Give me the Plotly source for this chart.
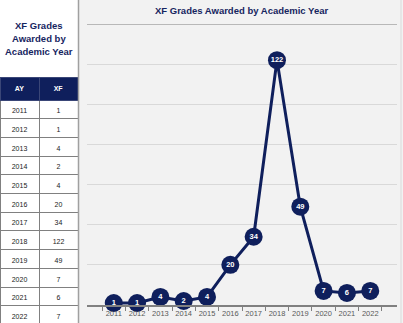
import plotly.graph_objects as go

# XF grades per academic year
years = ["2011", "2012", "2013", "2014", "2015", "2016",
         "2017", "2018", "2019", "2020", "2021", "2022"]
xf_counts = [1, 1, 4, 2, 4, 20, 34, 122, 49, 7, 6, 7]
table_header = ["AY", "XF"]

W, H = 403, 323
NAVY = "#0f1f5c"
FONT = "Liberation Sans"


def px_x(p):
    return p / W


def px_y(p):
    # pixel distance from the top -> paper fraction from the bottom
    return 1 - p / H


fig = go.Figure()

# line chart of the counts
fig.add_trace(go.Scatter(
    x=years, y=xf_counts,
    mode="lines+markers+text",
    line=dict(color=NAVY, width=3),
    marker=dict(size=18, color=NAVY),
    text=[str(v) for v in xf_counts],
    textposition="middle center",
    textfont=dict(color="white", size=7.5, family=FONT, weight="bold"),
    cliponaxis=False,
    hoverinfo="x+y",
    xaxis="x", yaxis="y",
))

# side table of the same values
fig.add_trace(go.Table(
    domain=dict(x=[0, px_x(78)], y=[0, px_y(77)]),
    columnwidth=[1, 1],
    header=dict(
        values=[f"<b>{h}</b>" for h in table_header],
        fill_color=NAVY,
        line=dict(color="#3a4677", width=1),
        font=dict(color="white", size=7, family=FONT),
        align="center",
        height=20,
    ),
    cells=dict(
        values=[years, [str(v) for v in xf_counts]],
        fill_color="white",
        line=dict(color="#808080", width=1),
        font=dict(color="#222222", size=7, family=FONT),
        align="center",
        height=18.7,
    ),
))

shapes = [
    # chart panel background
    dict(type="rect", xref="paper", yref="paper",
         x0=px_x(79), x1=1, y0=0, y1=1,
         fillcolor="#f2f2f2", line=dict(width=0), layer="below"),
    # divider between table and chart
    dict(type="line", xref="paper", yref="paper",
         x0=px_x(78.5), x1=px_x(78.5), y0=0, y1=1,
         line=dict(color="#a0a0a0", width=1.5)),
    # right frame edge
    dict(type="line", xref="paper", yref="paper",
         x0=px_x(401), x1=px_x(401), y0=0, y1=1,
         line=dict(color="#dadada", width=1)),
    # rule under the chart title
    dict(type="line", xref="paper", yref="paper",
         x0=px_x(87), x1=px_x(397), y0=px_y(24.5), y1=px_y(24.5),
         line=dict(color="#b8b8b8", width=1.2), layer="above"),
]

annotations = [
    dict(text="<b>XF Grades Awarded by Academic Year</b>",
         x=px_x(241), y=px_y(10), xref="paper", yref="paper",
         showarrow=False, xanchor="center", yanchor="middle",
         font=dict(size=9.5, color="#16255f", family=FONT)),
]
for i, line in enumerate(["XF Grades", "Awarded by", "Academic Year"]):
    annotations.append(dict(
        text=f"<b>{line}</b>", x=px_x(39), y=px_y(25 + 13 * i),
        xref="paper", yref="paper", showarrow=False,
        xanchor="center", yanchor="middle",
        font=dict(size=9.5, color="#16255f", family=FONT)))

# value axis: 0 at 305 px, 140 at 24 px
fig.update_layout(
    width=W, height=H,
    margin=dict(l=0, r=0, t=0, b=0),
    paper_bgcolor="white",
    plot_bgcolor="rgba(0,0,0,0)",
    showlegend=False,
    shapes=shapes,
    annotations=annotations,
    xaxis=dict(
        domain=[px_x(87), px_x(397)],
        type="category",
        tickson="boundaries",
        tickangle=0,
        ticks="outside", ticklen=4, tickwidth=1, tickcolor="#808080",
        showline=True, linecolor="#808080", linewidth=1.5,
        showgrid=False, zeroline=False,
        tickfont=dict(size=7.5, color="#595959", family=FONT),
        fixedrange=True,
    ),
    yaxis=dict(
        domain=[1 - 305 / H, 1 - 24 / H],
        range=[0, 140], dtick=20,
        showgrid=True, gridcolor="#d9d9d9", gridwidth=1,
        showticklabels=False, zeroline=False, showline=False,
        fixedrange=True,
    ),
)

fig.write_html("out.html", config={"displayModeBar": False})
